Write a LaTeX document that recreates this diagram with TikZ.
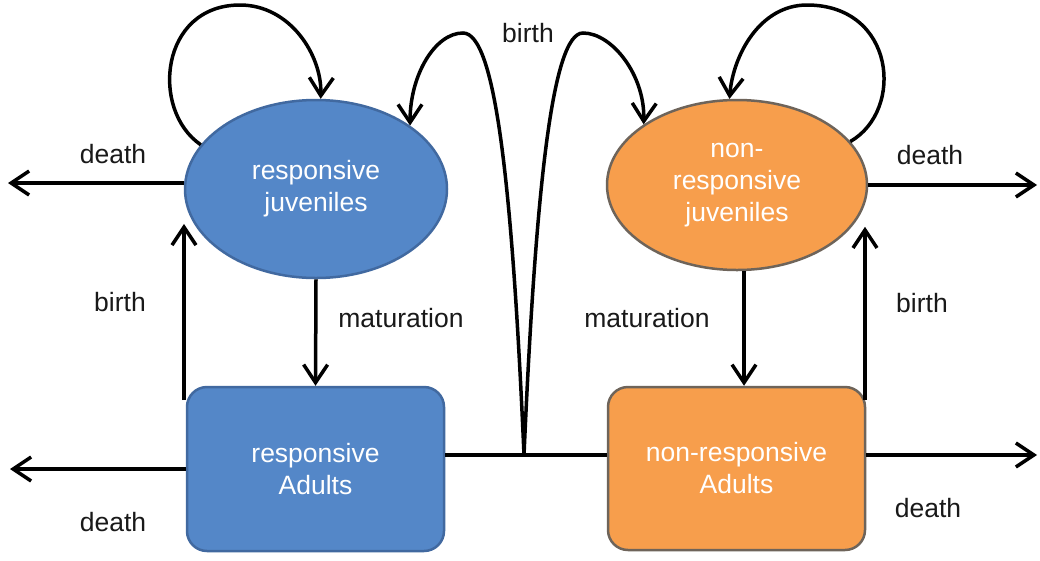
\documentclass[tikz,border=0pt]{standalone}
\usepackage{fontspec}
\setmainfont{Liberation Sans}
\usetikzlibrary{arrows.meta,shapes.geometric}
\definecolor{blueF}{RGB}{84,135,200}
\definecolor{blueD}{RGB}{65,105,160}
\definecolor{orangeF}{RGB}{247,158,76}
\definecolor{orangeD}{RGB}{110,100,90}
\begin{document}
\begin{tikzpicture}[x=1pt,y=-1pt,
  every node/.style={font=\fontsize{26.5}{32}\selectfont},
  jstate/.style={ellipse, draw, line width=2.5pt, inner sep=0pt, text=white, align=center},
  astate/.style={rectangle, rounded corners=20pt, draw, line width=2.5pt, inner sep=0pt, text=white, align=center},
  conn/.style={line width=3.5pt, draw=black},
  arr/.style={conn, -{Straight Barb[length=18pt,width=24pt]}},
  lbl/.style={text=black!90}]
\useasboundingbox (0,0) rectangle (1040,560);
\fill[white] (0,0) rectangle (1040,560);
% states
\node[jstate, fill=blueF, draw=blueD, minimum width=262pt, minimum height=178pt] (RJ) at (316,189) {responsive\\juveniles};
\node[jstate, fill=orangeF, draw=orangeD, minimum width=260pt, minimum height=170pt] (NRJ) at (737,185) {non-\\responsive\\juveniles};
\node[astate, fill=blueF, draw=blueD, minimum width=257pt, minimum height=164pt] (RA) at (315.5,469) {responsive\\Adults};
\node[astate, fill=orangeF, draw=orangeD, minimum width=257pt, minimum height=163pt] (NRA) at (736.5,468.5) {non-responsive\\Adults};
% labels
\node[lbl] (ldTL) at (113,154) {death};
\node[lbl] (ldTR) at (930,155) {death};
\node[lbl] (lbL) at (120,302) {birth};
\node[lbl] (lmL) at (401,318) {maturation};
\node[lbl] (lmR) at (647,318) {maturation};
\node[lbl] (lbR) at (922,303) {birth};
\node[lbl] (ldBL) at (113,522) {death};
\node[lbl] (ldBR) at (928,508) {death};
\node[lbl] (lbT) at (528,33) {birth};
% free ends
\coordinate (J) at (524,455);
\coordinate (dTL) at (8,183);
\coordinate (dTR) at (1037,185);
\coordinate (dBL) at (10,469);
\coordinate (dBR) at (1037,455);
\coordinate (bL) at (184,400);
\coordinate (bR) at (865,400);
% death
\draw[arr] (dTL -| RJ.west) -- (dTL);
\draw[arr] (NRJ.east) -- (dTR);
\draw[arr] (RA.west) -- (dBL);
\draw[arr] (J -| NRA.east) -- (dBR);
% adults link
\draw[conn] (J -| RA.east) -- (J -| NRA.west);
% maturation
\draw[arr] (RJ.south) -- (RA.north);
\draw[arr] ([xshift=7pt]NRJ.south) -- ([xshift=7pt]NRJ.south |- NRA.north);
% adult birth
\draw[arr] (bL) -- (bL |- RJ.196);
\draw[arr] (bR) -- (bR |- NRJ.-20);
% self loops
\draw[arr] (RJ.159) .. controls (150,110) and (160,5) .. (240,5) .. controls (290,5) and (322,55) .. (RJ.87);
\draw[arr] (NRJ.21) .. controls (905,110) and (895,5) .. (807,5) .. controls (760,5) and (733,55) .. (NRJ.95);
% cross birth
\draw[arr] (J) .. controls (512,180) and (495,33) .. (463,33) .. controls (435,33) and (410,75) .. (RJ.34);
\draw[arr] (J) .. controls (536,180) and (553,33) .. (583,33) .. controls (612,33) and (645,75) .. (NRJ.147);
\end{tikzpicture}
\end{document}
